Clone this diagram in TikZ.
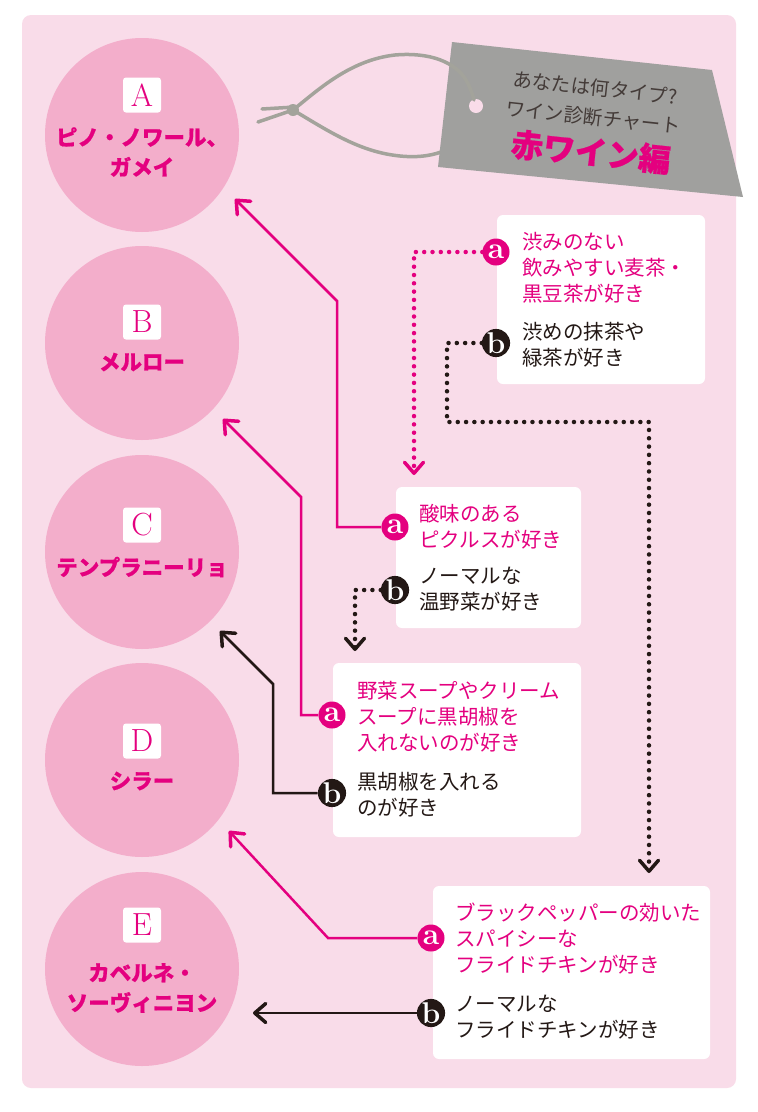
\documentclass[tikz,border=0pt]{standalone}
\usepackage{fontspec}
\newfontfamily\jp{Noto Sans CJK JP}
\newfontfamily\jpheavy{Noto Sans CJK JP}[BoldFeatures={FakeBold=0.6}]
\usetikzlibrary{arrows.meta}
\definecolor{panel}{HTML}{F9DCE9}
\definecolor{circ}{HTML}{F3AECB}
\definecolor{mag}{HTML}{E4007F}
\definecolor{ink}{HTML}{231815}
\definecolor{tagc}{HTML}{A0A09E}
\definecolor{cord}{HTML}{A3A39B}
\begin{document}
\begin{tikzpicture}[x=1pt,y=-1pt,
  wine/.style={circle, fill=circ, minimum size=194pt, inner sep=0pt},
  letterbox/.style={fill=white, rounded corners=3pt, minimum width=38pt, minimum height=35pt, inner sep=0pt, text=mag, font=\fontsize{32}{32}\selectfont},
  winename/.style={text=mag, font=\jpheavy\bfseries\fontsize{21.5}{30}\selectfont, align=center, inner sep=0pt},
  qbox/.style={fill=white, rounded corners=6pt, inner sep=0pt},
  pick/.style={circle, minimum size=27pt, inner sep=0pt, text=white, font=\bfseries\fontsize{30}{30}\selectfont},
  pa/.style={pick, fill=mag},
  pb/.style={pick, fill=ink},
  qtext/.style={anchor=west, align=left, inner sep=0pt, font=\jp\fontsize{20.5}{26}\selectfont},
  qa/.style={qtext, text=mag},
  qb/.style={qtext, text=ink},
  tip/.style={-{Straight Barb[length=11pt,width=19pt,line width=3.5pt,round]}},
  pinkline/.style={draw=mag, line width=2.5pt, tip},
  inkline/.style={draw=ink, line width=2.5pt, tip},
  pinkdot/.style={draw=mag, line width=4.5pt, line cap=round, dash pattern=on 0pt off 8.3pt, tip},
  inkdot/.style={draw=ink, line width=4.5pt, line cap=round, dash pattern=on 0pt off 8.3pt, tip},
  tagtext/.style={text=ink!85, inner sep=0pt, font=\jp\fontsize{19.5}{20}\selectfont, rotate=-6},
  cordline/.style={draw=cord, line width=3.5pt, line cap=round}
]
\useasboundingbox (0,0) rectangle (758,1112);
\fill[white] (0,0) rectangle (758,1112);
\fill[panel, rounded corners=9pt] (22,15) rectangle (736,1088);

% wine circles
\node[wine] (A) at (142,135) {};
\node[wine] (B) at (142,343) {};
\node[wine] (C) at (142,552) {};
\node[wine] (D) at (142,760) {};
\node[wine] (E) at (142,969) {};
\node[letterbox] (Albl) at (142,95) {A};
\node[letterbox] (Blbl) at (142,322) {B};
\node[letterbox] (Clbl) at (142,525) {C};
\node[letterbox] (Dlbl) at (142,741) {D};
\node[letterbox] (Elbl) at (142,925) {E};
\node[winename] (Aname) at (142,152) {ピノ・ノワール、\\ガメイ};
\node[winename] (Bname) at (142,362) {メルロー};
\node[winename] (Cname) at (142,567) {テンプラニーリョ};
\node[winename] (Dname) at (142,781) {シラー};
\node[winename] (Ename) at (142,988) {カベルネ・\\ソーヴィニヨン};

% tag with cord
\draw[cordline] (293,110) .. controls (330,132) and (360,152) .. (400,156) .. controls (420,158) and (435,155) .. (446,150);
\fill[tagc] (452,42) -- (712,70) -- (743,197) -- (438,167) -- cycle;
\fill[panel] (476,106) circle (7pt);
\draw[cordline] (293,110) .. controls (318,90) and (350,60) .. (395,55) .. controls (430,52) and (455,62) .. (466,80) .. controls (471,89) and (473,96) .. (474,100);
\draw[cordline] (293,110) -- (258,122);
\draw[cordline] (295,107) -- (262,109);
\fill[cord] (293,110) circle (6pt);
\node[tagtext] (tag1) at (595,88) {あなたは何タイプ?};
\node[tagtext] (tag2) at (593,117) {ワイン診断チャート};
\node[tagtext, text=mag, font=\jpheavy\bfseries\fontsize{32}{32}\selectfont] (tag3) at (591,152) {赤ワイン編};

% question boxes
\node[qbox, minimum width=208pt, minimum height=169pt] (box1) at (601,299.5) {};
\node[qbox, minimum width=185pt, minimum height=141pt] (box2) at (488.5,557.5) {};
\node[qbox, minimum width=248pt, minimum height=174pt] (box3) at (457,750) {};
\node[qbox, minimum width=277pt, minimum height=173pt] (box4) at (571.5,972.5) {};

\node[qa] (q1at) at (522,267.5) {渋みのない\\飲みやすい麦茶・\\黒豆茶が好き};
\node[qb] (q1bt) at (522,345) {渋めの抹茶や\\緑茶が好き};
\node[qa] (q2at) at (419,526.5) {酸味のある\\ピクルスが好き};
\node[qb] (q2bt) at (419,589.5) {ノーマルな\\温野菜が好き};
\node[qa] (q3at) at (357,716.5) {野菜スープやクリーム\\スープに黒胡椒を\\入れないのが好き};
\node[qb] (q3bt) at (357,794.5) {黒胡椒を入れる\\のが好き};
\node[qa] (q4at) at (455,939) {ブラックペッパーの効いた\\スパイシーな\\フライドチキンが好き};
\node[qb] (q4bt) at (455,1017.5) {ノーマルな\\フライドチキンが好き};

\node[pa] (q1a) at (496,252) {a};
\node[pb] (q1b) at (496,343) {b};
\node[pa] (q2a) at (395,527) {a};
\node[pb] (q2b) at (395,590) {b};
\node[pa] (q3a) at (332,715) {a};
\node[pb] (q3b) at (332,793) {b};
\node[pa] (q4a) at (431,938) {a};
\node[pb] (q4b) at (431,1013) {b};

% connector points
\coordinate (tA) at (235,199);
\coordinate (tB) at (223,419);
\coordinate (tC) at (220,631);
\coordinate (tD) at (229,831);
\coordinate (tE) at (253,1013);
\coordinate (t2) at (414,475);
\coordinate (t3) at (355,651);
\coordinate (t4) at (649,873);
\coordinate (k1) at (447,422);
\coordinate (kA) at (337,301);
\coordinate (kB) at (301,497);
\coordinate (kC) at (273,684);
\coordinate (kD) at (328,938);

% connectors
\draw[pinkdot] (q1a.west) -| (t2);
\draw[inkdot] (q1b.west) -| (k1) -| (t4);
\draw[pinkline] (q2a.west) -| (kA) -- (tA);
\draw[inkdot] (q2b.west) -| (t3);
\draw[pinkline] (q3a.west) -| (kB) -- (tB);
\draw[inkline] (q3b.west) -| (kC) -- (tC);
\draw[pinkline] (q4a.west) -- (kD) -- (tD);
\draw[inkline] (q4b.west) -- (tE);
\end{tikzpicture}
\end{document}
